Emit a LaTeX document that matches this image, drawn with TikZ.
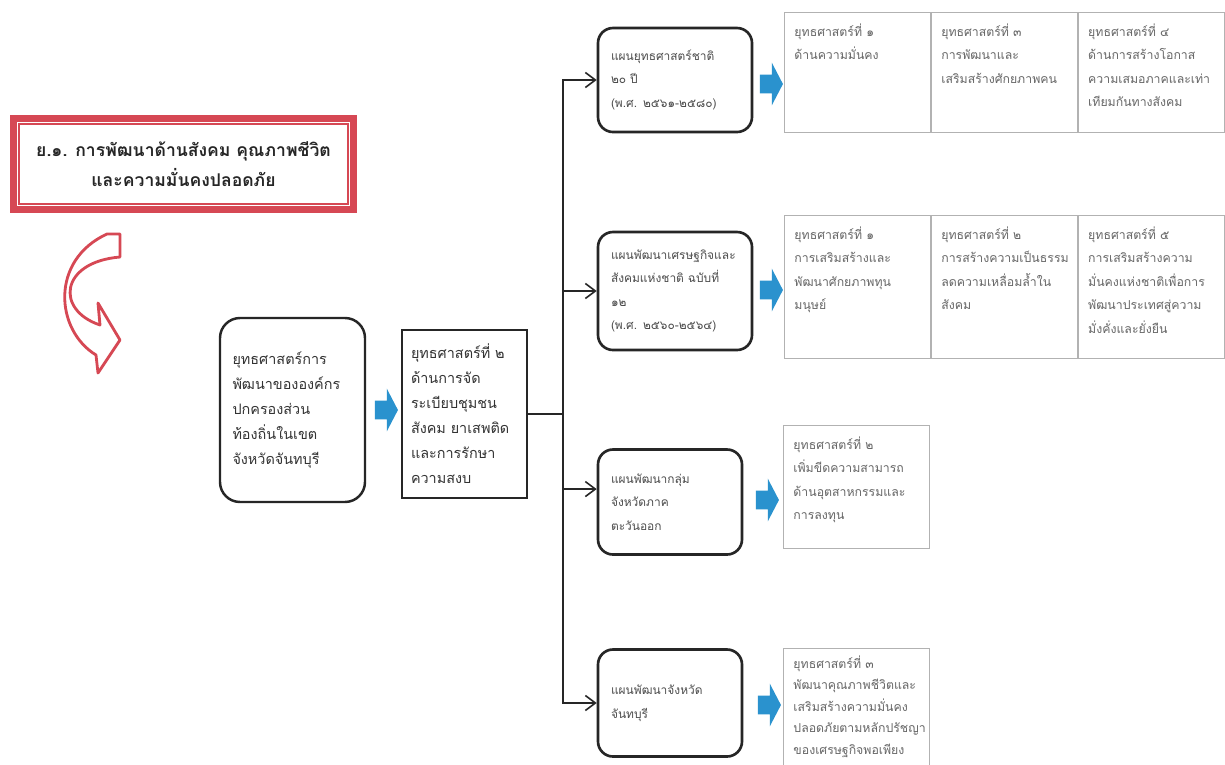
\documentclass[tikz,border=0pt]{standalone}
\usepackage{fontspec}
\newfontfamily\thaifont[Script=Thai]{Loma}
\usetikzlibrary{arrows.meta,positioning,shapes.arrows,calc}
\definecolor{framered}{RGB}{214,72,84}
\definecolor{arrowblue}{RGB}{42,146,206}
\newcommand{\celltext}[2]{\parbox[t][#1][t]{25.2mm}{\raggedright #2}}

\begin{document}
\begin{tikzpicture}[
    x=0.2mm, y=-0.2mm,
    font=\thaifont\fontsize{7}{13.4}\selectfont,
    goalframe/.style={draw=framered, line width=4pt, fill=white, minimum width=68mm, minimum height=18.2mm, align=center, font=\thaifont\bfseries\fontsize{10}{17}\selectfont, text=black!85},
    roundbox/.style={draw=black!85, line width=1.4pt, rounded corners=4mm, align=left, text=black!80, font=\thaifont\fontsize{8.2}{14.2}\selectfont},
    squarebox/.style={draw=black!85, line width=1.1pt, align=left, text=black!80, font=\thaifont\fontsize{8.2}{14.2}\selectfont},
    planbox/.style={draw=black!85, line width=1.5pt, rounded corners=3mm, align=left, text=black!70, font=\thaifont\fontsize{6.8}{13.4}\selectfont},
    cell/.style={draw=black!30, line width=0.5pt, inner xsep=2mm, inner ysep=2.2mm, anchor=north west, text=black!60},
    blockarrow/.style={single arrow, fill=arrowblue, draw=none, inner xsep=0pt, inner ysep=1.8mm, minimum height=4.6mm, single arrow head extend=2.4mm, single arrow tip angle=125},
    trunkline/.style={draw=black!85, line width=0.9pt},
    linkarrow/.style={trunkline, -{Straight Barb[length=2mm, width=3mm]}}
]
\useasboundingbox[fill=white] (0,0) rectangle (1225,764);

% goal heading
\node[goalframe] (goal) at (183.5,164) {ย.๑. การพัฒนาด้านสังคม คุณภาพชีวิต\\และความมั่นคงปลอดภัย};
\draw[framered, line width=0.9pt] ($(goal.north west)+(9,9)$) rectangle ($(goal.south east)+(-9,-9)$);

% curved arrow
\draw[framered, line width=1.6pt, fill=white, line join=round]
    (107,234) -- (120,234) -- (120,257)
    .. controls (60,262) and (55,310) .. (100,325) -- (98,303) -- (120,340) -- (98,373) -- (96,355)
    .. controls (55,330) and (50,260) .. (107,234) -- cycle;

% local and provincial strategy
\node[roundbox, minimum width=29mm, minimum height=36.8mm, text width=24mm] (lgov) at (292.5,410) {ยุทธศาสตร์การ\\พัฒนาขององค์กร\\ปกครองส่วน\\ท้องถิ่นในเขต\\จังหวัดจันทบุรี};
\node[squarebox, minimum width=25mm, minimum height=33.6mm, text width=21.4mm] (mid) at (464.5,414) {ยุทธศาสตร์ที่ ๒\\ด้านการจัด\\ระเบียบชุมชน\\สังคม ยาเสพติด\\และการรักษา\\ความสงบ};
\node[blockarrow] (ba0) at (384,410) {};

% plans
\node[planbox, minimum width=30.8mm, minimum height=20.8mm, text width=25.6mm] (plan1) at (675,80) {แผนยุทธศาสตร์ชาติ\\๒๐ ปี\\(พ.ศ. ๒๕๖๑-๒๕๘๐)};
\node[planbox, minimum width=30.8mm, minimum height=23.6mm, text width=25.6mm] (plan2) at (675,291) {แผนพัฒนาเศรษฐกิจและ\\สังคมแห่งชาติ ฉบับที่\\๑๒\\(พ.ศ. ๒๕๖๐-๒๕๖๔)};
\node[planbox, minimum width=28.8mm, minimum height=21mm, text width=23.6mm] (plan3) at (670,502) {แผนพัฒนากลุ่ม\\จังหวัดภาค\\ตะวันออก};
\node[planbox, minimum width=28.8mm, minimum height=21.4mm, text width=23.6mm] (plan4) at (670,703) {แผนพัฒนาจังหวัด\\จันทบุรี};

\node[blockarrow] (ba1) at (769,84) {};
\node[blockarrow] (ba2) at (769,290) {};
\node[blockarrow] (ba3) at (765,500) {};
\node[blockarrow] (ba4) at (767,705) {};

% strategy cells
\node[cell] (natA) at (784,12) {\celltext{19.6mm}{ยุทธศาสตร์ที่ ๑\\ด้านความมั่นคง}};
\node[cell, right=0pt of natA] (natB) {\celltext{19.6mm}{ยุทธศาสตร์ที่ ๓\\การพัฒนาและ\\เสริมสร้างศักยภาพคน}};
\node[cell, right=0pt of natB] (natC) {\celltext{19.6mm}{ยุทธศาสตร์ที่ ๔\\ด้านการสร้างโอกาส\\ความเสมอภาคและเท่า\\เทียมกันทางสังคม}};

\node[cell] (ecoA) at (784,215) {\celltext{24.2mm}{ยุทธศาสตร์ที่ ๑\\การเสริมสร้างและ\\พัฒนาศักยภาพทุน\\มนุษย์}};
\node[cell, right=0pt of ecoA] (ecoB) {\celltext{24.2mm}{ยุทธศาสตร์ที่ ๒\\การสร้างความเป็นธรรม\\ลดความเหลื่อมล้ำใน\\สังคม}};
\node[cell, right=0pt of ecoB] (ecoC) {\celltext{24.2mm}{ยุทธศาสตร์ที่ ๕\\การเสริมสร้างความ\\มั่นคงแห่งชาติเพื่อการ\\พัฒนาประเทศสู่ความ\\มั่งคั่งและยั่งยืน}};

\node[cell] (east) at (783,425) {\celltext{20.2mm}{ยุทธศาสตร์ที่ ๒\\เพิ่มขีดความสามารถ\\ด้านอุตสาหกรรมและ\\การลงทุน}};
\node[cell, inner ysep=1.4mm, font=\thaifont\fontsize{7}{12.3}\selectfont] (prov) at (783,648) {\celltext{23mm}{ยุทธศาสตร์ที่ ๓\\พัฒนาคุณภาพชีวิตและ\\เสริมสร้างความมั่นคง\\ปลอดภัยตามหลักปรัชญา\\ของเศรษฐกิจพอเพียง}};

% connectors
\coordinate (trunk) at (563,414);
\draw[trunkline] (mid.east) -- (trunk);
\draw[linkarrow] (trunk) |- (plan1.west);
\draw[linkarrow] (trunk) |- (plan2.west);
\draw[linkarrow] (trunk) |- (plan3.170);
\draw[linkarrow] (trunk) |- (plan4.west);
\end{tikzpicture}
\end{document}
